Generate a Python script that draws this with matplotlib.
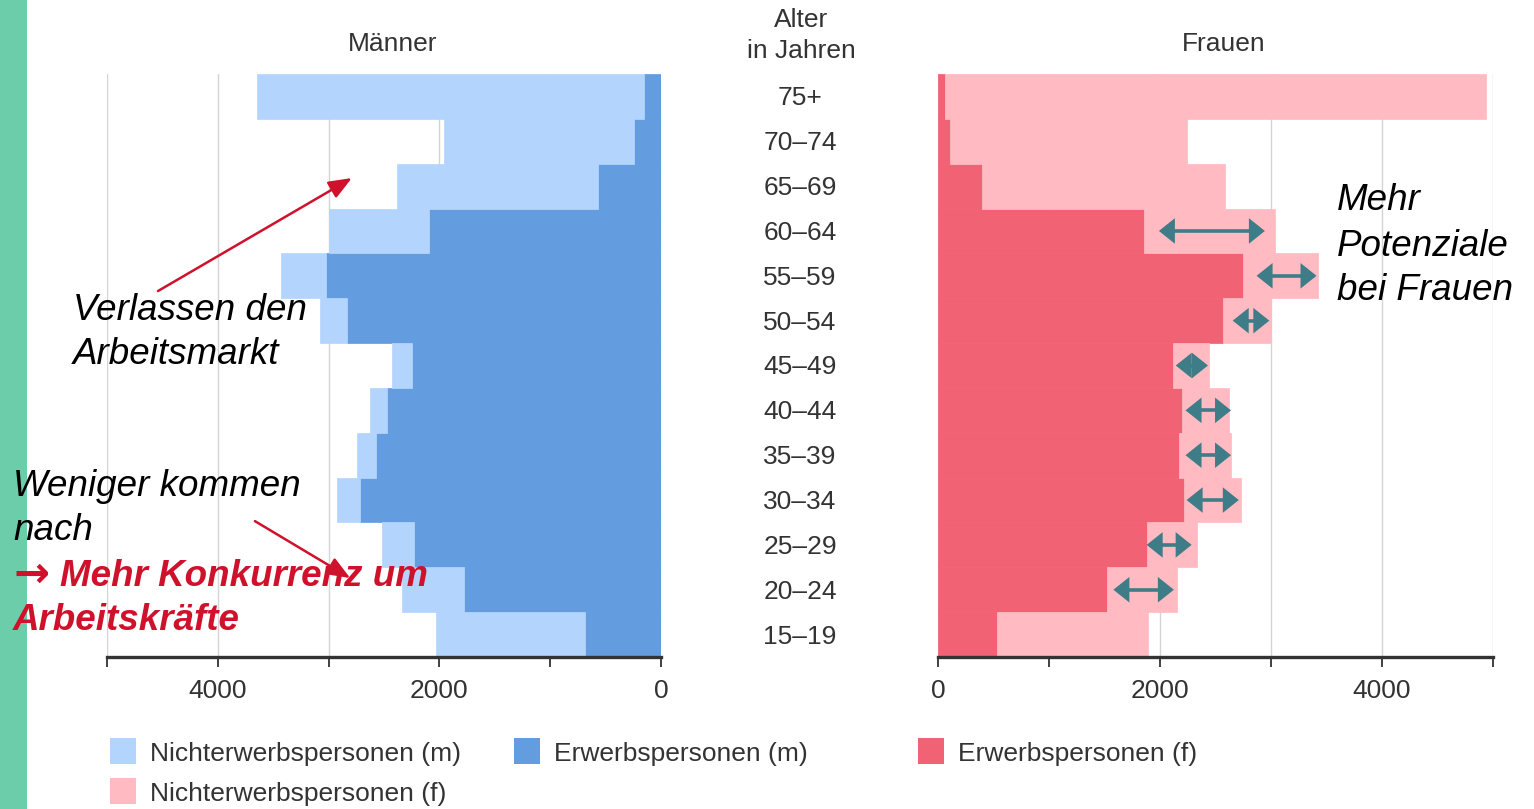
import matplotlib
matplotlib.use("Agg")
import matplotlib.pyplot as plt
import numpy as np
from matplotlib.patches import Rectangle
from matplotlib.transforms import blended_transform_factory, ScaledTranslation

plt.rcParams['font.family'] = ['Liberation Sans', 'DejaVu Sans']

# data, rows from top (75+) to bottom (15-19)
ages = ['75+', '70–74', '65–69', '60–64', '55–59', '50–54', '45–49',
        '40–44', '35–39', '30–34', '25–29', '20–24', '15–19']
erwerb_m = [150, 240, 570, 2090, 3020, 2830, 2250, 2470, 2570, 2720, 2230, 1780, 690]
nicht_m = [3500, 1720, 1810, 910, 410, 250, 180, 160, 170, 200, 290, 560, 1340]
erwerb_f = [60, 110, 400, 1860, 2750, 2570, 2120, 2200, 2170, 2220, 1880, 1520, 530]
nicht_f = [4880, 2130, 2190, 1180, 670, 430, 320, 420, 470, 510, 450, 630, 1360]

# "Potenzial" arrows on the women's side (start/end values, rows 60-64 .. 20-24)
pot_rows = ['60–64', '55–59', '50–54', '45–49', '40–44', '35–39', '30–34', '25–29', '20–24']
pot_start = [1990, 2870, 2655, 2142, 2230, 2230, 2240, 1880, 1580]
pot_end = [2945, 3410, 2985, 2432, 2640, 2640, 2710, 2285, 2125]

legend_labels = ['Nichterwerbspersonen (m)', 'Erwerbspersonen (m)',
                 'Erwerbspersonen (f)', 'Nichterwerbspersonen (f)']

c_light_blue = '#B3D4FC'
c_blue = '#639CDF'
c_red = '#F16275'
c_pink = '#FFBBC1'
c_teal = '#3E7C87'
c_anno = '#D0112B'
c_text = '#333333'
legend_colors = [c_light_blue, c_blue, c_red, c_pink]

W, H = 1534, 809
fig = plt.figure(figsize=(W / 100, H / 100), dpi=100)


def fx(px):
    return px / W


def fy(py):
    return 1 - py / H


def ft(py):
    # text centre, matplotlib centres slightly high
    return fy(py + 3)


ax_m = fig.add_axes([fx(107), fy(657), (661 - 107) / W, (657 - 74) / H])
ax_f = fig.add_axes([fx(938), fy(657), (1493 - 938) / W, (657 - 74) / H])

ypos = np.arange(len(ages))[::-1]
row_of = dict(zip(ages, ypos))

for ax, erw, nicht, c1, c2 in [(ax_m, erwerb_m, nicht_m, c_blue, c_light_blue),
                                (ax_f, erwerb_f, nicht_f, c_red, c_pink)]:
    ax.barh(ypos, erw, height=1.0, color=c1, edgecolor=c1, lw=0.5, zorder=2)
    ax.barh(ypos, nicht, left=erw, height=1.0, color=c2, edgecolor=c2, lw=0.5, zorder=2)
    ax.set_ylim(-0.5, len(ages) - 0.5)
    ax.set_yticks([])
    ax.set_xticks([0, 2000, 4000])
    ax.set_xticks([1000, 3000, 5000], minor=True)
    ax.grid(axis='x', which='both', color='#d4d4d4', lw=1, zorder=0)
    ax.set_axisbelow(True)
    for s in ['top', 'left', 'right']:
        ax.spines[s].set_visible(False)
    ax.spines['bottom'].set_linewidth(2.4)
    ax.spines['bottom'].set_color(c_text)
    ax.spines['bottom'].set_zorder(3)
    ax.tick_params(axis='x', which='both', direction='out', length=7.5, width=1.3,
                   color=c_text, labelsize=19, labelcolor=c_text, pad=8.5)
    ax.set_facecolor('none')

ax_m.set_xlim(5000, 0)
ax_f.set_xlim(0, 5000)

# age labels in the middle
trans = blended_transform_factory(fig.transFigure, ax_m.transData) + \
    ScaledTranslation(0, -0.02, fig.dpi_scale_trans)
for a, yy in zip(ages, ypos):
    fig.text(fx(800), yy, a, transform=trans, ha='center', va='center',
             fontsize=19, color=c_text)

fig.text(fx(393), ft(41), 'Männer', ha='center', va='center', fontsize=19, color=c_text)
fig.text(fx(1224), ft(41), 'Frauen', ha='center', va='center', fontsize=19, color=c_text)
fig.text(fx(801), ft(17), 'Alter', ha='center', va='center', fontsize=19, color=c_text)
fig.text(fx(801), ft(48), 'in Jahren', ha='center', va='center', fontsize=19, color=c_text)

# green strip on the left edge
fig.add_artist(Rectangle((0, 0), fx(27), 1, transform=fig.transFigure,
                         color='#6CCDAA', lw=0, zorder=-1))

# annotation texts
tf = fig.transFigure
for txt, x, y in [('Verlassen den', 73, 307), ('Arbeitsmarkt', 73, 352),
                  ('Weniger kommen', 13, 483), ('nach', 13, 527)]:
    ax_m.text(fx(x), ft(y), txt, transform=tf, fontsize=26.5, style='italic',
              ha='left', va='center', color='black', zorder=5)
ax_m.text(fx(14), ft(572), '→', transform=tf, fontsize=31, weight='bold',
          family='DejaVu Sans', ha='left', va='center', color=c_anno, zorder=5)
ax_m.text(fx(60), ft(574), 'Mehr Konkurrenz um', transform=tf, fontsize=26.5, style='italic',
          weight='bold', ha='left', va='center', color=c_anno, zorder=5)
ax_m.text(fx(13), ft(618), 'Arbeitskräfte', transform=tf, fontsize=26.5, style='italic',
          weight='bold', ha='left', va='center', color=c_anno, zorder=5)
for txt, y in [('Mehr', 198), ('Potenziale', 243), ('bei Frauen', 287)]:
    fig.text(fx(1337), ft(y), txt, fontsize=26.5, style='italic',
             ha='left', va='center', color='black')

# red arrows on the men's side
red_arrow = dict(arrowstyle='-|>,head_length=0.7,head_width=0.28', mutation_scale=20,
                 lw=1.8, color=c_anno, shrinkA=0, shrinkB=0)
ax_m.annotate('', xy=(2790, 10.18), xytext=(4540, 7.66), arrowprops=red_arrow,
              annotation_clip=False, zorder=6)
ax_m.annotate('', xy=(2805, 1.26), xytext=(3665, 2.53), arrowprops=red_arrow,
              annotation_clip=False, zorder=6)

# teal double arrows on the women's side: filled heads + separate shaft
head_px = 16
unit_per_px = 5000 / (1493 - 938)
teal_heads = dict(arrowstyle='<|-|>,head_length=%.3f,head_width=0.46' % (head_px / 27.78),
                  mutation_scale=20, lw=0, color=c_teal, shrinkA=0, shrinkB=0)
for r, s, e in zip(pot_rows, pot_start, pot_end):
    yy = row_of[r]
    ax_f.annotate('', xy=(e, yy), xytext=(s, yy), arrowprops=teal_heads, zorder=4)
    inset = head_px / 2 * unit_per_px
    if e - s > 2 * inset + unit_per_px:
        ax_f.plot([s + inset, e - inset], [yy, yy], color=c_teal, lw=2.6,
                  solid_capstyle='butt', zorder=4)

# legend
legend_pos = [(110, 751), (514, 751), (918, 751), (110, 791)]
for lab, col, (lx, ly) in zip(legend_labels, legend_colors, legend_pos):
    fig.add_artist(Rectangle((fx(lx), fy(ly + 13)), 26 / W, 26 / H,
                             transform=fig.transFigure, color=col, lw=0))
    fig.text(fx(lx + 40), ft(ly), lab, ha='left', va='center', fontsize=19, color=c_text)

fig.savefig('out.png', dpi=100)
